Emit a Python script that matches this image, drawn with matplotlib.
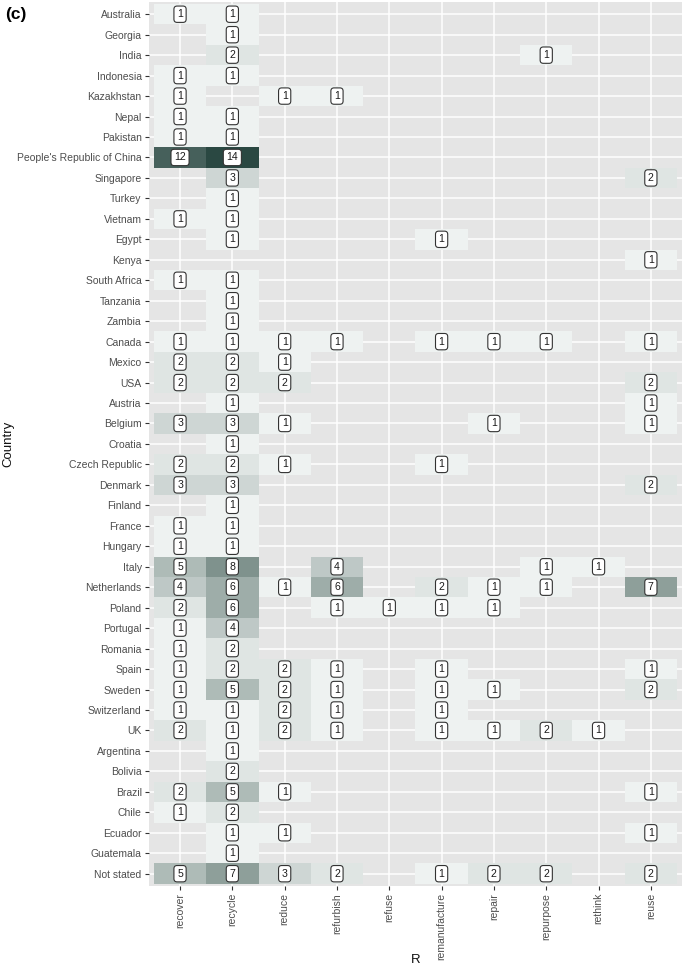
import numpy as np
import matplotlib
matplotlib.use("Agg")
import matplotlib.pyplot as plt
from matplotlib.colors import LinearSegmentedColormap

# categories
countries = ["Australia", "Georgia", "India", "Indonesia", "Kazakhstan", "Nepal",
             "Pakistan", "People's Republic of China", "Singapore", "Turkey", "Vietnam",
             "Egypt", "Kenya", "South Africa", "Tanzania", "Zambia", "Canada", "Mexico",
             "USA", "Austria", "Belgium", "Croatia", "Czech Republic", "Denmark",
             "Finland", "France", "Hungary", "Italy", "Netherlands", "Poland",
             "Portugal", "Romania", "Spain", "Sweden", "Switzerland", "UK",
             "Argentina", "Bolivia", "Brazil", "Chile", "Ecuador", "Guatemala",
             "Not stated"]
r_labels = ["recover", "recycle", "reduce", "refurbish", "refuse", "remanufacture",
            "repair", "repurpose", "rethink", "reuse"]

# counts per country, in order of r_labels (0 = no tile)
counts = [
    [1, 1, 0, 0, 0, 0, 0, 0, 0, 0],   # Australia
    [0, 1, 0, 0, 0, 0, 0, 0, 0, 0],   # Georgia
    [0, 2, 0, 0, 0, 0, 0, 1, 0, 0],   # India
    [1, 1, 0, 0, 0, 0, 0, 0, 0, 0],   # Indonesia
    [1, 0, 1, 1, 0, 0, 0, 0, 0, 0],   # Kazakhstan
    [1, 1, 0, 0, 0, 0, 0, 0, 0, 0],   # Nepal
    [1, 1, 0, 0, 0, 0, 0, 0, 0, 0],   # Pakistan
    [12, 14, 0, 0, 0, 0, 0, 0, 0, 0], # China
    [0, 3, 0, 0, 0, 0, 0, 0, 0, 2],   # Singapore
    [0, 1, 0, 0, 0, 0, 0, 0, 0, 0],   # Turkey
    [1, 1, 0, 0, 0, 0, 0, 0, 0, 0],   # Vietnam
    [0, 1, 0, 0, 0, 1, 0, 0, 0, 0],   # Egypt
    [0, 0, 0, 0, 0, 0, 0, 0, 0, 1],   # Kenya
    [1, 1, 0, 0, 0, 0, 0, 0, 0, 0],   # South Africa
    [0, 1, 0, 0, 0, 0, 0, 0, 0, 0],   # Tanzania
    [0, 1, 0, 0, 0, 0, 0, 0, 0, 0],   # Zambia
    [1, 1, 1, 1, 0, 1, 1, 1, 0, 1],   # Canada
    [2, 2, 1, 0, 0, 0, 0, 0, 0, 0],   # Mexico
    [2, 2, 2, 0, 0, 0, 0, 0, 0, 2],   # USA
    [0, 1, 0, 0, 0, 0, 0, 0, 0, 1],   # Austria
    [3, 3, 1, 0, 0, 0, 1, 0, 0, 1],   # Belgium
    [0, 1, 0, 0, 0, 0, 0, 0, 0, 0],   # Croatia
    [2, 2, 1, 0, 0, 1, 0, 0, 0, 0],   # Czech Republic
    [3, 3, 0, 0, 0, 0, 0, 0, 0, 2],   # Denmark
    [0, 1, 0, 0, 0, 0, 0, 0, 0, 0],   # Finland
    [1, 1, 0, 0, 0, 0, 0, 0, 0, 0],   # France
    [1, 1, 0, 0, 0, 0, 0, 0, 0, 0],   # Hungary
    [5, 8, 0, 4, 0, 0, 0, 1, 1, 0],   # Italy
    [4, 6, 1, 6, 0, 2, 1, 1, 0, 7],   # Netherlands
    [2, 6, 0, 1, 1, 1, 1, 0, 0, 0],   # Poland
    [1, 4, 0, 0, 0, 0, 0, 0, 0, 0],   # Portugal
    [1, 2, 0, 0, 0, 0, 0, 0, 0, 0],   # Romania
    [1, 2, 2, 1, 0, 1, 0, 0, 0, 1],   # Spain
    [1, 5, 2, 1, 0, 1, 1, 0, 0, 2],   # Sweden
    [1, 1, 2, 1, 0, 1, 0, 0, 0, 0],   # Switzerland
    [2, 1, 2, 1, 0, 1, 1, 2, 1, 0],   # UK
    [0, 1, 0, 0, 0, 0, 0, 0, 0, 0],   # Argentina
    [0, 2, 0, 0, 0, 0, 0, 0, 0, 0],   # Bolivia
    [2, 5, 1, 0, 0, 0, 0, 0, 0, 1],   # Brazil
    [1, 2, 0, 0, 0, 0, 0, 0, 0, 0],   # Chile
    [0, 1, 1, 0, 0, 0, 0, 0, 0, 1],   # Ecuador
    [0, 1, 0, 0, 0, 0, 0, 0, 0, 0],   # Guatemala
    [5, 7, 3, 2, 0, 1, 2, 2, 0, 2],   # Not stated
]

plt.rcParams["font.family"] = ["Liberation Sans", "DejaVu Sans"]

z = np.array(counts, dtype=float)
z = np.ma.masked_where(z == 0, z)

cmap = LinearSegmentedColormap.from_list("g", ["#eef2f1", "#869893", "#2a4842"])

fig = plt.figure(figsize=(6.85, 9.72), dpi=100)
ax = fig.add_axes([0.217, 0.0885, 0.779, 0.9095])
ax.set_facecolor("#e5e5e5")

nx, ny = len(r_labels), len(countries)
ax.pcolormesh(np.arange(nx + 1) - 0.5, np.arange(ny + 1) - 0.5, z,
              cmap=cmap, vmin=1, vmax=14, zorder=2)

for i in range(ny):
    for j in range(nx):
        v = counts[i][j]
        if v:
            ax.text(j, i, str(v), ha="center", va="center", fontsize=7.6,
                    color="#1a1a1a", zorder=4,
                    bbox=dict(boxstyle="round,pad=0.3,rounding_size=0.3",
                              fc="white", ec="#333333", lw=0.8))

ax.set_xlim(-0.6, nx - 1 + 0.6)
ax.set_ylim(ny - 1 + 0.6, -0.6)
ax.set_xticks(range(nx))
ax.set_xticklabels(r_labels, rotation=90)
ax.set_yticks(range(ny))
ax.set_yticklabels(countries)
ax.tick_params(length=3, width=0.8, color="#333333", labelcolor="#4d4d4d",
               labelsize=7.5, pad=2)
ax.grid(True, color="white", lw=1.1, zorder=1)
ax.set_axisbelow(True)
for s in ax.spines.values():
    s.set_visible(False)

ax.set_xlabel("R", fontsize=9.5, color="#111111")
ax.xaxis.set_label_coords(0.6065, 0.019, transform=fig.transFigure)
ax.set_ylabel("Country", fontsize=9.5, labelpad=2, color="#111111")
fig.text(0.008, 0.985, "(c)", fontsize=12.5, fontweight="bold", va="center")

fig.savefig("out.png", dpi=100)
